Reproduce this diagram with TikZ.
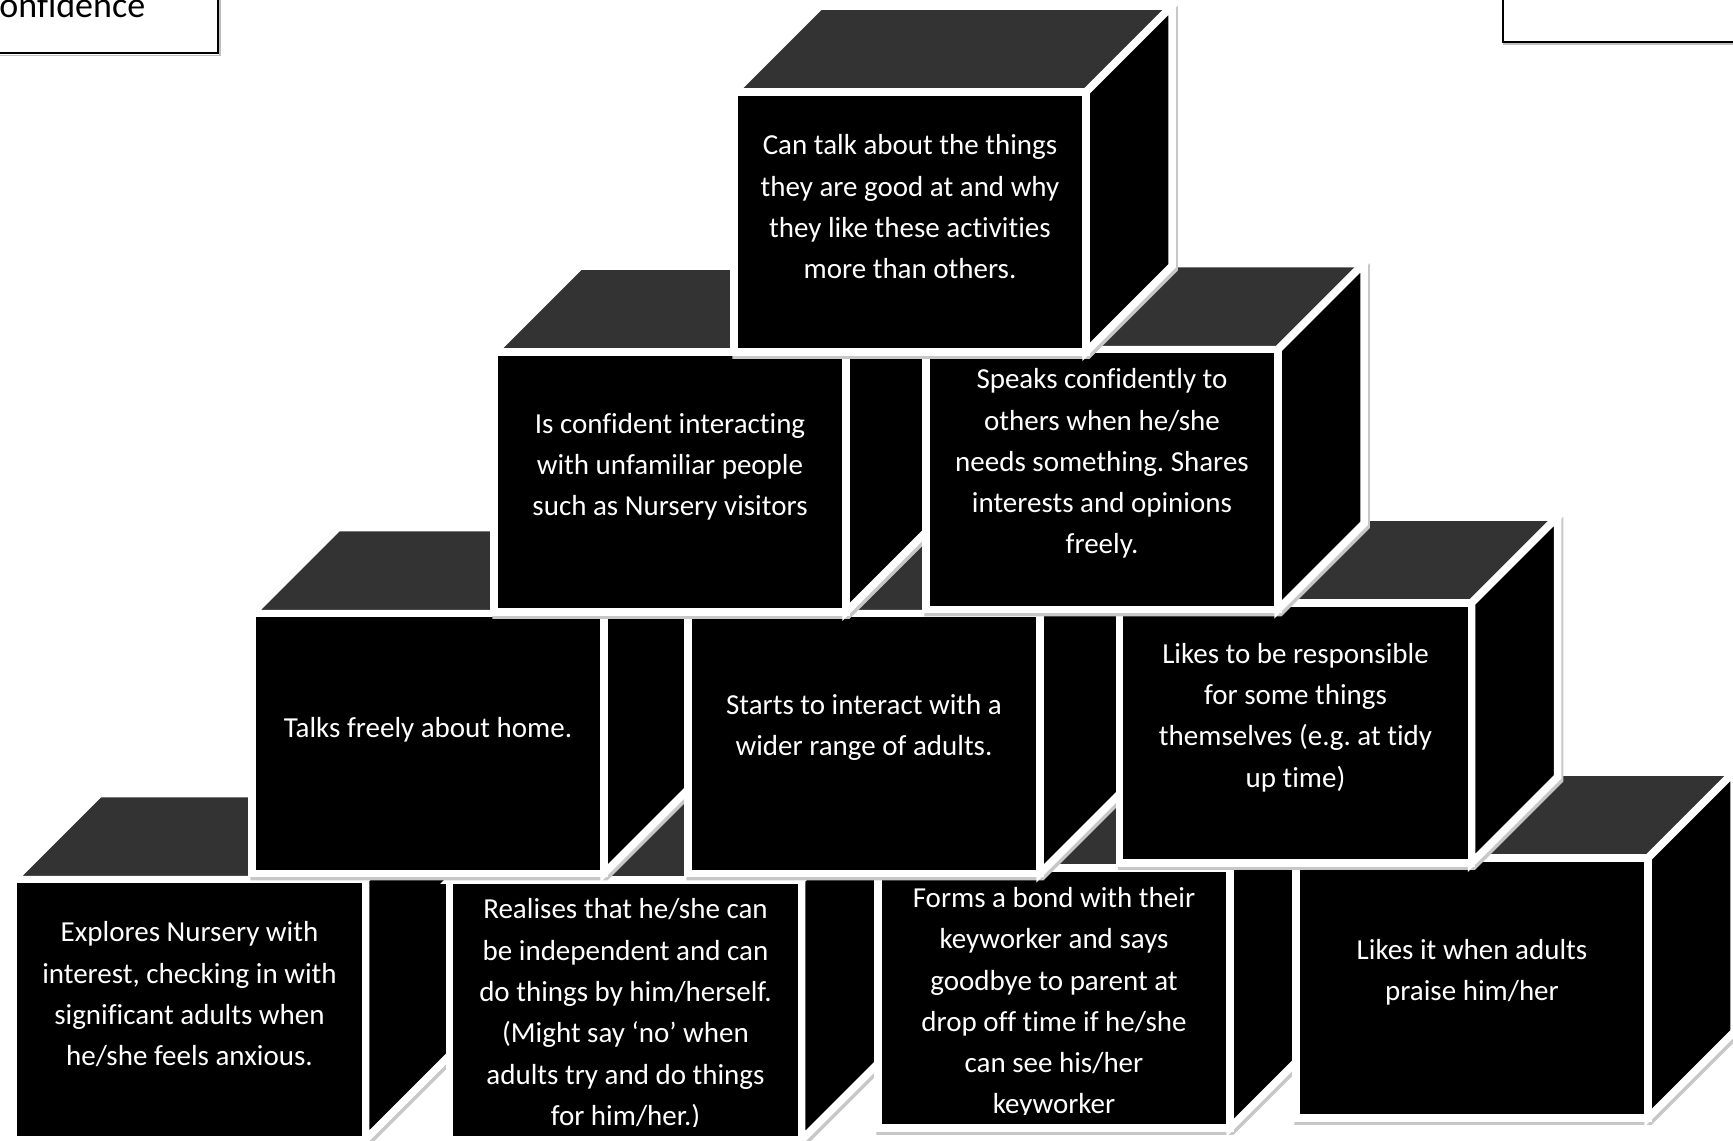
\documentclass[tikz,border=0pt]{standalone}
\usepackage{fontspec}
\setmainfont{Carlito}[Ligatures={NoCommon}]
\frenchspacing
\tikzset{
  topface/.style={fill=black!80, draw=white, line width=7.5pt},
  sideface/.style={fill=black, draw=white, line width=7.5pt},
  frontface/.style={fill=black, draw=white, line width=7.5pt},
  cubeshadow/.style={fill=black!22, draw=black!22, line width=7.5pt},
  cubetext/.style={text=white, align=center, font=\fontsize{29pt}{41.3pt}\selectfont\frenchspacing, inner sep=0pt},
  hdrbox/.style={draw=black, line width=2.3pt},
  hdrshadow/.style={draw=black!25, line width=1.5pt}
}
% #1 name, #2 x, #3 y (front top-left), #4 text centre y (relative), #5 text
\newcommand{\mycube}[5]{%
\begin{scope}[shift={(#2,#3)}]
  \path[cubeshadow] (2,3) -- ++(86,-86) -- ++(352,0) -- ++(0,260) -- ++(-86,86) -- ++(-352,0) -- cycle;
  \path[topface] (0,0) -- (86,-86) -- (438,-86) -- (352,0) -- cycle;
  \path[sideface] (352,0) -- (438,-86) -- (438,174) -- (352,260) -- cycle;
  \path[frontface] (0,0) rectangle (352,260);
  \begin{scope}
    \clip (4,4) rectangle (348,246);
    \node[cubetext] (#1) at (176,#4) {#5};
  \end{scope}
\end{scope}}
\begin{document}
\begin{tikzpicture}[x=1pt,y=-1pt]
\useasboundingbox (0,0) rectangle (1733,1141);
\clip (0,0) rectangle (1733,1141);
\fill[white] (0,0) rectangle (1733,1141);

% header boxes
\draw[hdrshadow] (-10,55.5) -- (220,55.5) -- (220,-10);
\draw[hdrbox] (-10,-10) rectangle (218,53);
\node[anchor=base west, inner sep=0pt, font=\fontsize{36pt}{43pt}\selectfont] (title) at (-20,17) {Confidence};
\draw[hdrshadow] (1503,44) -- (1745,44);
\draw[hdrbox] (1503,-10) rectangle (1745,42);

% bottom row
\mycube{c1}{13.5}{879.5}{114.7}{Explores Nursery with\\interest, checking in with\\significant adults when\\he/she feels anxious.}
\mycube{c2}{449.5}{880}{134}{Realises that he/she can\\be independent and can\\do things by him/herself.\\(Might say ‘no’ when\\adults try and do things\\for him/her.)}
\mycube{c3}{878}{868}{135}{Forms a bond with their\\keyworker and says\\goodbye to parent at\\drop off time if he/she\\can see his/her\\keyworker}
\mycube{c4}{1296}{858}{114.5}{Likes it when adults\\praise him/her}
% third row
\mycube{c5}{252}{613.5}{116.5}{Talks freely about home.}
\mycube{c6}{688}{613.5}{114}{Starts to interact with a\\wider range of adults.}
\mycube{c7}{1119.5}{603}{114.6}{Likes to be responsible\\for some things\\themselves (e.g. at tidy\\up time)}
% second row
\mycube{c8}{494}{352}{114.7}{Is confident interacting\\with unfamiliar people\\such as Nursery visitors}
\mycube{c9}{926}{349.5}{114.1}{Speaks confidently to\\others when he/she\\needs something. Shares\\interests and opinions\\freely.}
% top
\mycube{c10}{734}{92}{114.7}{Can talk about the things\\they are good at and why\\they like these activities\\more than others.}
\end{tikzpicture}
\end{document}
